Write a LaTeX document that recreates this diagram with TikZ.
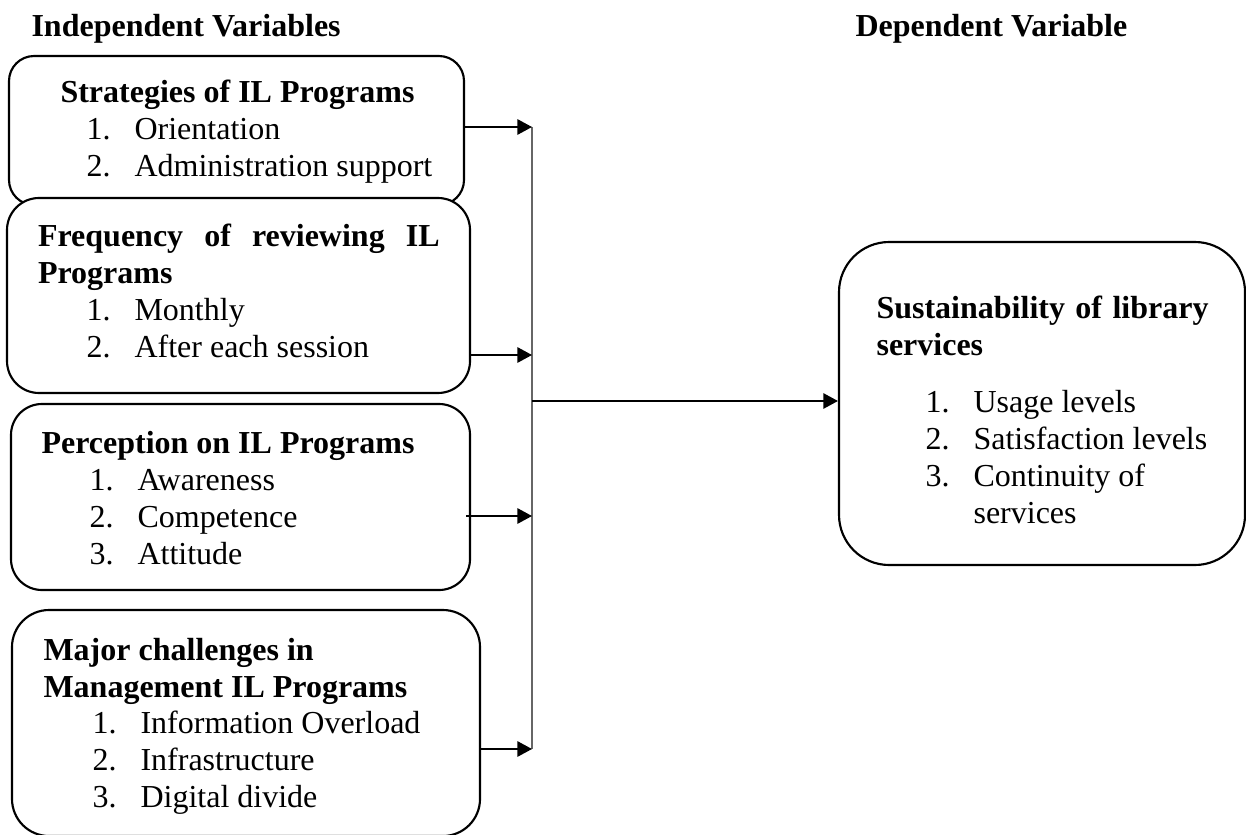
\documentclass[tikz,border=0pt]{standalone}
\usepackage{fontspec}
\setmainfont{Liberation Serif}
\usetikzlibrary{arrows.meta,fit}

\newcommand{\twelve}{\fontsize{12}{13.875}\selectfont}

\begin{document}
\begin{tikzpicture}[
    x=0.375pt, y=-0.375pt,
    font=\twelve,
    arrow/.style={-{Triangle[length=5.5pt,width=5.8pt]}, line width=0.6pt, draw=black},
    bus/.style={line width=0.6pt, draw=black!60},
    box/.style={
        draw=black,
        fill=white,
        line width=0.8pt,
        inner sep=0pt
    },
    head/.style={font=\twelve\bfseries, anchor=base west, inner sep=0pt},
    boxtitle/.style={font=\twelve\bfseries, anchor=base west, inner sep=0pt},
    boxitems/.style={font=\twelve, anchor=base west, inner sep=0pt}
]
    \useasboundingbox (0,0) rectangle (1246,834);

    %------------------------------------------------
    % headings
    %------------------------------------------------
    \node[head] (indep) at (31,37) {Independent Variables};
    \node[head] (dep) at (855,37) {Dependent Variable};

    %------------------------------------------------
    % independent variables
    %------------------------------------------------
    \node[box, rounded corners=9.4pt, fit={(9,56) (464,205)}] (strat) {};
    \node[boxtitle] (strattitle) at (60,103) {Strategies of IL Programs};
    \node[boxitems] (stratlist) at (86,140)
    {\begin{tabular}[t]{@{}p{18pt}@{}l@{}}
        1. & Orientation\\
        2. & Administration support
    \end{tabular}};

    \node[box, rounded corners=12pt, fit={(7,198) (470,393)}] (freq) {};
    \node[boxtitle] (freqtitle) at (37.5,247)
    {\begin{tabular}[t]{@{}l@{}}
        \makebox[150.6pt][s]{Frequency of reviewing IL}\\
        Programs
    \end{tabular}};
    \node[boxitems] (freqlist) at (86,320)
    {\begin{tabular}[t]{@{}p{18pt}@{}l@{}}
        1. & Monthly\\
        2. & After each session
    \end{tabular}};

    \node[box, rounded corners=11.6pt, fit={(11,404) (470,590)}] (perc) {};
    \node[boxtitle] (perctitle) at (41,453) {Perception on IL Programs};
    \node[boxitems] (perclist) at (89,490)
    {\begin{tabular}[t]{@{}p{18pt}@{}l@{}}
        1. & Awareness\\
        2. & Competence\\
        3. & Attitude
    \end{tabular}};

    \node[box, rounded corners=13.9pt, fit={(12,610) (480,836)}] (chal) {};
    \node[boxtitle] (chaltitle) at (43,660)
    {\begin{tabular}[t]{@{}l@{}}
        Major challenges in\\
        Management IL Programs
    \end{tabular}};
    \node[boxitems] (challist) at (92,733)
    {\begin{tabular}[t]{@{}p{18pt}@{}l@{}}
        1. & Information Overload\\
        2. & Infrastructure\\
        3. & Digital divide
    \end{tabular}};

    %------------------------------------------------
    % dependent variable
    %------------------------------------------------
    \node[box, rounded corners=18.8pt, fit={(839,242) (1245,565)}] (sust) {};
    \node[boxtitle] (susttitle) at (876,318)
    {\begin{tabular}[t]{@{}l@{}}
        \makebox[124.5pt][s]{Sustainability of library}\\
        services
    \end{tabular}};
    \node[boxitems] (sustlist) at (925,412)
    {\begin{tabular}[t]{@{}p{18pt}@{}l@{}}
        1. & Usage levels\\
        2. & Satisfaction levels\\
        3. & Continuity of\\
           & services
    \end{tabular}};

    %------------------------------------------------
    % connectors
    %------------------------------------------------
    \coordinate (j1) at (532,127);
    \coordinate (j2) at (532,355);
    \coordinate (j3) at (532,516);
    \coordinate (j4) at (532,749);
    \coordinate (jm) at (532,401);

    \draw[bus] (j1) -- (j4);

    \draw[arrow] (strat.east |- j1) -- (j1);
    \draw[arrow] (freq.east |- j2) -- (j2);
    \draw[arrow, shorten <=-1.9pt] (perc.east |- j3) -- (j3);
    \draw[arrow] (chal.east |- j4) -- (j4);

    \draw[arrow] (jm) -- (sust.west |- jm);

\end{tikzpicture}
\end{document}
